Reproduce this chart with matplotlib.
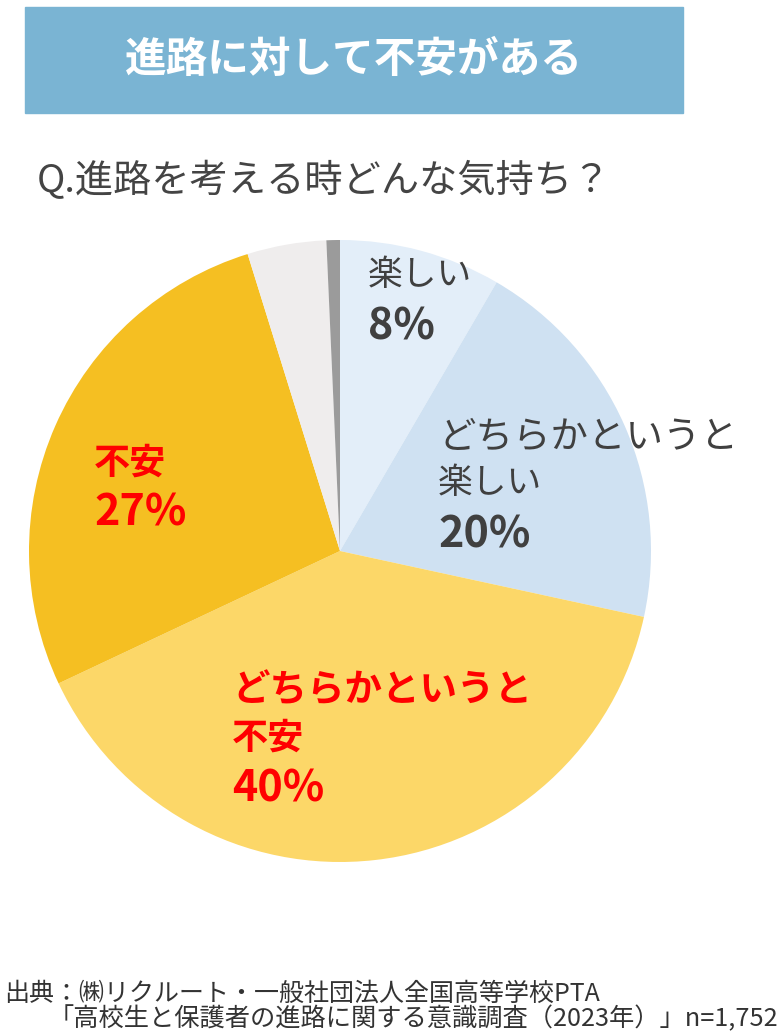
import matplotlib
matplotlib.use("Agg")
import matplotlib.pyplot as plt
from matplotlib.patches import Rectangle

plt.rcParams['font.family'] = ['Noto Sans CJK JP', 'DejaVu Sans']

# data (clockwise from 12 o'clock)
categories = ["楽しい", "どちらかというと楽しい", "どちらかというと不安", "不安", "その他", "無回答"]
values = [8.4, 20.0, 39.6, 27.2, 4.1, 0.7]
colors = ["#e3eef9", "#cfe1f2", "#fcd768", "#f5bf22", "#efeded", "#9b9b9b"]

title = "進路に対して不安がある"
question = "Q.進路を考える時どんな気持ち？"
source1 = "出典：㈱リクルート・一般社団法人全国高等学校PTA"
source2 = "「高校生と保護者の進路に関する意識調査（2023年）」n=1,752"

W, H = 781, 1033
fig = plt.figure(figsize=(W / 100, H / 100), dpi=100)
ax = fig.add_axes([0, 0, 1, 1])

def y(py):
    # pixel row from the top -> data y
    return H - py

# pie
ax.pie(values, colors=colors, startangle=90, counterclock=False,
       center=(340, y(551)), radius=311, frame=True,
       wedgeprops=dict(linewidth=0))
ax.set_xlim(0, W)
ax.set_ylim(0, H)
ax.set_aspect("equal")
ax.axis("off")

# header box
ax.add_patch(Rectangle((25, y(113)), 658, 106, color="#7ab4d3", zorder=1))
ax.text(354, y(60), title, color="white", fontsize=30, fontweight="bold",
        ha="center", va="center", zorder=2)

ax.text(37, y(181), question, color="#444444", fontsize=27.5,
        ha="left", va="center")

dark = "#404040"
red = "#ff0000"
# slice labels
ax.text(368, y(276), "楽しい", color=dark, fontsize=25, va="center")
ax.text(368, y(327), f"{round(values[0])}%", color=dark, fontsize=31,
        fontweight="bold", va="center")

ax.text(438, y(437), "どちらかというと", color=dark, fontsize=27, va="center")
ax.text(438, y(484), "楽しい", color=dark, fontsize=25, va="center")
ax.text(438, y(535), f"{round(values[1])}%", color=dark, fontsize=31,
        fontweight="bold", va="center")

ax.text(232, y(690), "どちらかというと", color=red, fontsize=27,
        fontweight="bold", va="center")
ax.text(232, y(738), "不安", color=red, fontsize=26, fontweight="bold", va="center")
ax.text(232, y(789), f"{round(values[2])}%", color=red, fontsize=31,
        fontweight="bold", va="center")

ax.text(94, y(463), "不安", color=red, fontsize=26, fontweight="bold", va="center")
ax.text(94, y(513), f"{round(values[3])}%", color=red, fontsize=31,
        fontweight="bold", va="center")

# source
ax.text(4, y(994), source1, color="#333333", fontsize=18, va="center")
ax.text(778, y(1019), source2, color="#333333", fontsize=18.2, va="center", ha="right")

fig.savefig("out.png", dpi=100, facecolor="white")
